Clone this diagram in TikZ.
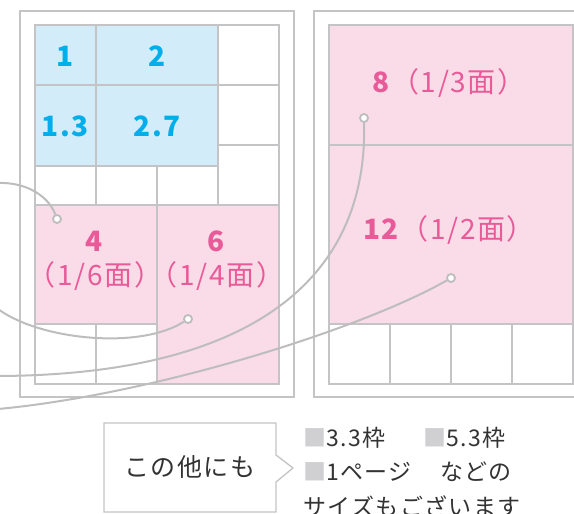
\documentclass[tikz,border=0pt]{standalone}
\usepackage{fontspec}
\setmainfont{Noto Sans CJK JP}[LetterSpace=6]
\definecolor{gridgray}{HTML}{C4C4C6}
\definecolor{linegray}{HTML}{BDBDBD}
\definecolor{cellblue}{HTML}{D2ECF9}
\definecolor{numblue}{HTML}{00AEEB}
\definecolor{cellpink}{HTML}{FADCE8}
\definecolor{numpink}{HTML}{E85A98}
\definecolor{textgray}{HTML}{333333}
\definecolor{boxgray}{HTML}{D0D0D2}

\begin{document}
\begin{tikzpicture}
    [x=1pt, y=-1pt,
    sheet/.style={draw=gridgray, line width=2pt},
    cell/.style={draw=gridgray, line width=1.3pt},
    bluecell/.style={cell, fill=cellblue},
    pinkcell/.style={cell, fill=cellpink},
    bluenum/.style={text=numblue, font=\fontsize{28}{28}\selectfont\bfseries},
    pinknum/.style={text=numpink, font=\fontsize{28}{34}\selectfont, align=center},
    dot/.style={circle, draw=linegray, fill=white, line width=1.8pt, minimum size=8pt},
    link/.style={linegray, line width=2pt},
    note/.style={text=textgray, font=\fontsize{23}{23}\selectfont, anchor=west},
    inner sep=0pt]

    \useasboundingbox (0,0) rectangle (574,514);
    \clip (0,0) rectangle (574,514);

    % left sheet
    \draw[sheet] (20,11) rectangle (294,397);
    \draw[bluecell] (35,25) rectangle (96,85);
    \draw[bluecell] (96,25) rectangle (218,85);
    \draw[bluecell] (35,85) rectangle (96,166);
    \draw[bluecell] (96,85) rectangle (218,166);
    \draw[cell] (218,25) rectangle (279,85);
    \draw[cell] (218,85) rectangle (279,145);
    \draw[cell] (218,145) rectangle (279,205);
    \draw[cell] (35,166) rectangle (96,205);
    \draw[cell] (96,166) rectangle (157,205);
    \draw[cell] (157,166) rectangle (218,205);
    \draw[pinkcell] (35,205) rectangle (157,324);
    \draw[pinkcell] (157,205) rectangle (279,384);
    \draw[cell] (35,324) rectangle (96,384);
    \draw[cell] (96,324) rectangle (157,384);

    \node[bluenum] (n1) at (65,56) {1};
    \node[bluenum] (n2) at (157,56) {2};
    \node[bluenum] (n13) at (65,126) {1.3};
    \node[bluenum] (n27) at (157,126) {2.7};
    \node[pinknum] (n4) at (95,261) {\textbf{4}\\（1/6面）};
    \node[pinknum] (n6) at (217,261) {\textbf{6}\\（1/4面）};

    % right sheet
    \draw[sheet] (314,11) rectangle (590,397);
    \draw[pinkcell] (329,25) rectangle (573,145);
    \draw[pinkcell] (329,145) rectangle (573,324);
    \draw[cell] (329,324) rectangle (390,384);
    \draw[cell] (390,324) rectangle (451,384);
    \draw[cell] (451,324) rectangle (512,384);
    \draw[cell] (512,324) rectangle (573,384);

    \node[pinknum] (n8) at (449,83) {\textbf{8}（1/3面）};
    \node[pinknum] (n12) at (449,230) {\textbf{12}（1/2面）};

    % leader lines
    \node[dot] (d4) at (57,219) {};
    \node[dot] (d6) at (188,319) {};
    \node[dot] (d8) at (364,118) {};
    \node[dot] (d12) at (451,278) {};
    \coordinate (e4) at (-2,183);
    \coordinate (e6) at (-2,309);
    \coordinate (e8) at (-2,376);
    \coordinate (e12) at (-2,409);

    \draw[link] (e4) .. controls (25,182) and (48,195) .. (d4);
    \draw[link] (e6) .. controls (40,340) and (140,350) .. (d6);
    \draw[link] (e8) .. controls (250,375) and (368,280) .. (d8);
    \draw[link] (e12) .. controls (150,395) and (360,330) .. (d12);

    % note
    \draw[cell, fill=white] (104,423) -- (276,423) -- (276,455) -- (293,468)
        -- (276,482) -- (276,512) -- (104,512) -- cycle;
    \node[text=textgray, font=\fontsize{25}{25}\selectfont] (others) at (190,467) {この他にも};

    \node[note] (s33) at (303,438) {{\color{boxgray}■}3.3枠};
    \node[note] (s53) at (423,438) {{\color{boxgray}■}5.3枠};
    \node[note] (p1) at (303,472) {{\color{boxgray}■}1ページ};
    \node[note] (etc) at (440,472) {などの};
    \node[note] (sizes) at (303,506) {サイズもございます};

\end{tikzpicture}
\end{document}
